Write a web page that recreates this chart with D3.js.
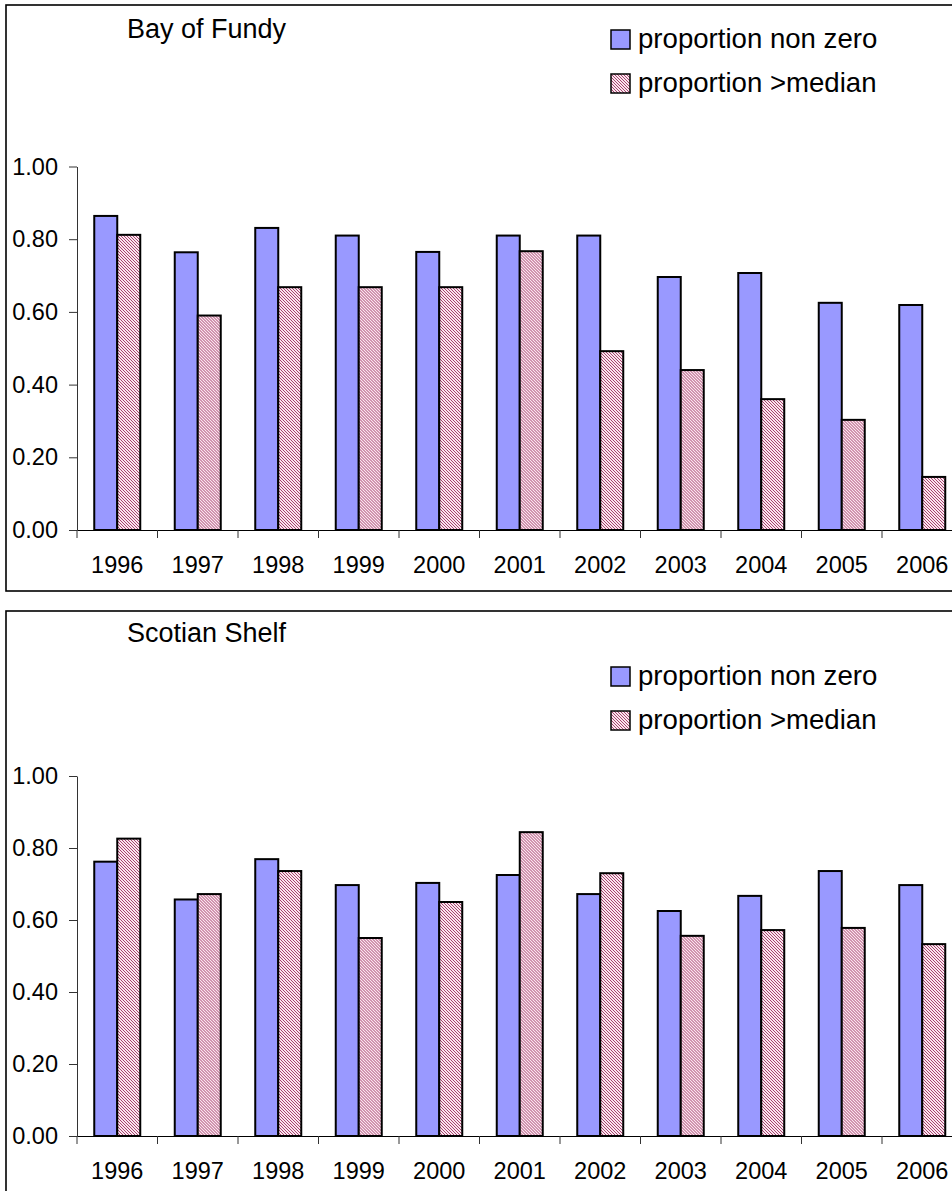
<!DOCTYPE html>
<html>
<head>
<meta charset="utf-8">
<script src="https://cdn.jsdelivr.net/npm/d3@7"></script>
<style>
  html, body { margin: 0; padding: 0; background: #fff; }
  svg { display: block; }
  text { font-family: Arial, "Liberation Sans", sans-serif; fill: #000; }
</style>
</head>
<body>
<svg id="chart" width="952" height="1191"></svg>
<script>
// Survey years (shared by both panels)
const years = ["1996", "1997", "1998", "1999", "2000", "2001", "2002", "2003", "2004", "2005", "2006"];
const seriesNames = ["proportion non zero", "proportion >median"];
const yTicks = [0, 0.2, 0.4, 0.6, 0.8, 1.0];

// Bay of Fundy
const fundyNonZero = [0.864, 0.764, 0.831, 0.810, 0.765, 0.810, 0.810, 0.696, 0.707, 0.625, 0.619];
const fundyAboveMedian = [0.812, 0.590, 0.668, 0.668, 0.668, 0.767, 0.492, 0.440, 0.360, 0.303, 0.146];

// Scotian Shelf
const shelfNonZero = [0.762, 0.657, 0.769, 0.697, 0.703, 0.725, 0.672, 0.625, 0.667, 0.736, 0.697];
const shelfAboveMedian = [0.826, 0.672, 0.736, 0.550, 0.650, 0.844, 0.730, 0.556, 0.572, 0.578, 0.533];

const svg = d3.select("#chart");

// Diagonal hatch used for the second series
const defs = svg.append("defs");
const hatch = defs.append("pattern")
  .attr("id", "hatch")
  .attr("patternUnits", "userSpaceOnUse")
  .attr("width", 3).attr("height", 3);
hatch.append("rect").attr("width", 3).attr("height", 3).attr("fill", "#f9e6ee");
hatch.append("path")
  .attr("d", "M-1,-1 L4,4 M-1,2 L1,4 M2,-1 L4,1")
  .attr("stroke", "#a8426f").attr("stroke-width", 1);

const fills = ["#9999ff", "url(#hatch)"];

function panel(cfg) {
  const g = svg.append("g");

  // Chart frame (runs off the right edge)
  g.append("rect")
    .attr("x", 6).attr("y", cfg.frameTop)
    .attr("width", 980).attr("height", cfg.frameH)
    .attr("fill", "#fff").attr("stroke", "#000").attr("stroke-width", 1.6);

  const x = d3.scaleBand().domain(years).range([77, 962.5]).padding(0);
  const xs = d3.scaleBand().domain(seriesNames).range([0, x.bandwidth()])
    .paddingInner(0).paddingOuter(0.75);
  const y = d3.scaleLinear().domain([0, 1]).range([cfg.yBottom, cfg.yTop]);

  const rows = years.map((yr, i) => ({ year: yr, vals: [cfg.a[i], cfg.b[i]] }));

  // Bars
  const grp = g.selectAll(".grp").data(rows).join("g")
    .attr("transform", d => `translate(${x(d.year)},0)`);
  grp.selectAll("rect").data(d => d.vals.map((v, k) => ({ v, k }))).join("rect")
    .attr("x", d => xs(seriesNames[d.k]))
    .attr("y", d => y(d.v))
    .attr("width", xs.bandwidth())
    .attr("height", d => y(0) - y(d.v))
    .attr("fill", d => fills[d.k])
    .attr("stroke", "#000").attr("stroke-width", 2);

  // Y axis
  const yAxis = g.append("g").attr("transform", "translate(77,0)")
    .call(d3.axisLeft(y).tickValues(yTicks).tickFormat(d3.format(".2f"))
      .tickSize(8).tickSizeOuter(0).tickPadding(11));
  yAxis.select(".domain").attr("stroke", "#333");
  yAxis.selectAll(".tick line").attr("stroke", "#333");
  yAxis.selectAll("text").attr("font-size", 23.5).attr("fill", "#000");

  // X axis: labels at category centres, ticks at category boundaries
  const xAxis = g.append("g").attr("transform", `translate(0,${cfg.yBottom})`)
    .call(d3.axisBottom(x).tickSize(0).tickPadding(26));
  xAxis.select(".domain").attr("stroke", "#000");
  xAxis.selectAll("text").attr("font-size", 23.5).attr("fill", "#000");
  g.append("g").selectAll("line").data(years).join("line")
    .attr("x1", d => x(d)).attr("x2", d => x(d))
    .attr("y1", cfg.yBottom).attr("y2", cfg.yBottom + 8)
    .attr("stroke", "#333");

  // Title
  g.append("text").attr("x", 127).attr("y", cfg.titleY)
    .attr("font-size", 27).text(cfg.title);

  // Legend
  const leg = g.append("g").selectAll("g").data(seriesNames).join("g")
    .attr("transform", (d, i) => `translate(611,${cfg.legendY + i * 44})`);
  leg.append("rect").attr("width", 19).attr("height", 19)
    .attr("fill", (d, i) => fills[i]).attr("stroke", "#000").attr("stroke-width", 1.5);
  leg.append("text").attr("x", 27).attr("y", 18)
    .attr("font-size", 27.6).text(d => d);
}

panel({
  title: "Bay of Fundy", a: fundyNonZero, b: fundyAboveMedian,
  frameTop: 5, frameH: 586, yTop: 166.5, yBottom: 530,
  titleY: 38, legendY: 30
});
panel({
  title: "Scotian Shelf", a: shelfNonZero, b: shelfAboveMedian,
  frameTop: 611, frameH: 620, yTop: 776, yBottom: 1136,
  titleY: 642, legendY: 667
});
</script>
</body>
</html>
